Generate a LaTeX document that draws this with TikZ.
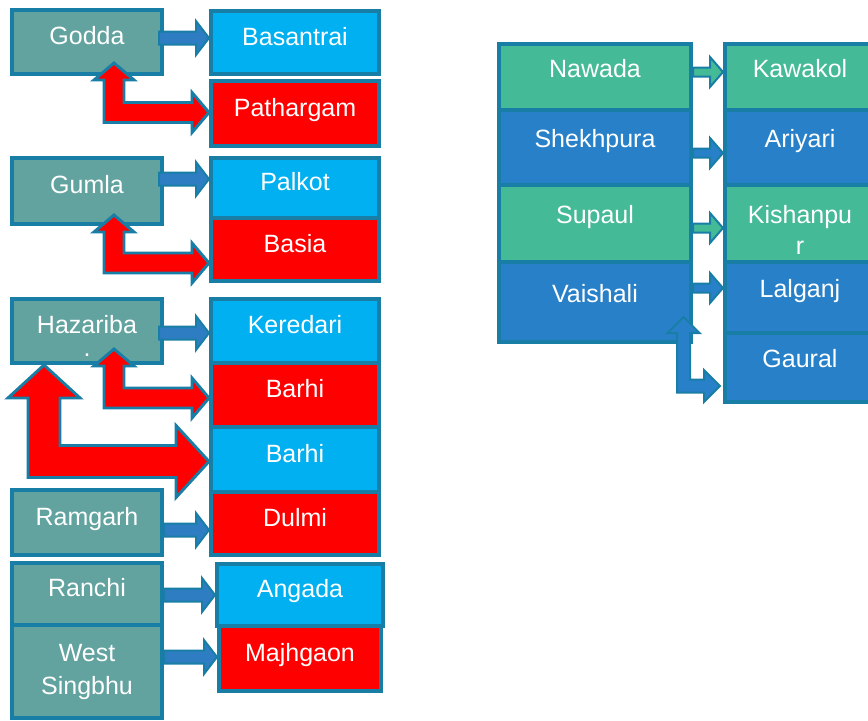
\documentclass[tikz,border=0pt]{standalone}
\usepackage{fontspec}
\setmainfont{Liberation Sans}
\usetikzlibrary{calc}

\newcommand{\pxu}{0.75pt}

\definecolor{edgeteal}{HTML}{187EA6}
\definecolor{distfill}{HTML}{62A39F}
\definecolor{skyfill}{HTML}{00B0F0}
\definecolor{redfill}{HTML}{FF0000}
\definecolor{greenfill}{HTML}{45BA96}
\definecolor{bluefill}{HTML}{2881C8}
\definecolor{arrowblue}{HTML}{2E7DC3}

\tikzset{
  box/.style={draw=edgeteal, line width=3pt, inner sep=0pt, text=white,
    font=\fontsize{18.75}{24.75}\selectfont},
  district/.style={box, fill=distfill, minimum width=150*\pxu, text height=14pt, text depth=10pt},
  block/.style={box, minimum width=168*\pxu, text height=14pt, text depth=10pt},
  bihar/.style={box, text height=14pt, text depth=14pt},
  arrowbody/.style={draw=edgeteal, line width=1.5pt},
  bentbody/.style={draw=edgeteal, line width=2.2pt},
}

% straight block arrow: style, tail, tip, shaft half, head half, head length
\newcommand{\harrow}[6]{%
  \draw[#1] let \p1=#2, \p2=#3 in
    (\x1,\y1+#4*\pxu) -- (\x2-#6*\pxu,\y1+#4*\pxu) -- (\x2-#6*\pxu,\y1+#5*\pxu) -- (\x2,\y1)
    -- (\x2-#6*\pxu,\y1-#5*\pxu) -- (\x2-#6*\pxu,\y1-#4*\pxu) -- (\x1,\y1-#4*\pxu) -- cycle;}

% bent double arrow: style, top tip, right tip, shaft half, head half, head length
\newcommand{\barrow}[6]{%
  \draw[#1] let \p1=#2, \p2=#3 in
    (\x1,\y1) -- (\x1+#5*\pxu,\y1-#6*\pxu) -- (\x1+#4*\pxu,\y1-#6*\pxu) -- (\x1+#4*\pxu,\y2+#4*\pxu)
    -- (\x2-#6*\pxu,\y2+#4*\pxu) -- (\x2-#6*\pxu,\y2+#5*\pxu) -- (\x2,\y2)
    -- (\x2-#6*\pxu,\y2-#5*\pxu) -- (\x2-#6*\pxu,\y2-#4*\pxu) -- (\x1-#4*\pxu,\y2-#4*\pxu)
    -- (\x1-#4*\pxu,\y1-#6*\pxu) -- (\x1-#5*\pxu,\y1-#6*\pxu) -- cycle;}

\begin{document}
\begin{tikzpicture}[x=0.75pt, y=-0.75pt]

\useasboundingbox (0,0) rectangle (868,721);

\node[district, minimum height=64*\pxu] (godda) at (87,42) {Godda};
\node[block, fill=skyfill, minimum height=63*\pxu] (basantrai) at (295,42.5) {Basantrai};
\node[block, fill=redfill, minimum height=65*\pxu] (pathargam) at (295,113.5) {Pathargam};

\node[district, minimum height=66*\pxu] (gumla) at (87,191) {Gumla};
\node[block, fill=skyfill, minimum height=60*\pxu] (palkot) at (295,188) {Palkot};
\node[block, fill=redfill, minimum height=63*\pxu] (basia) at (295,249.5) {Basia};

\node[district, minimum height=64*\pxu] (hazaribag) at (87,331) {\begin{tabular}[t]{@{}c@{}}Hazariba\\[-8pt].\end{tabular}};
\node[block, fill=skyfill, minimum height=64*\pxu] (keredari) at (295,331) {Keredari};
\node[block, fill=redfill, minimum height=64*\pxu] (barhired) at (295,395) {Barhi};
\node[block, fill=skyfill, minimum height=65*\pxu] (barhiblue) at (295,459.5) {Barhi};

\node[district, minimum height=65*\pxu] (ramgarh) at (87,522.5) {Ramgarh};
\node[block, fill=redfill, minimum height=63*\pxu] (dulmi) at (295,523.5) {Dulmi};

\node[district, minimum height=62*\pxu] (ranchi) at (87,594) {Ranchi};
\node[block, fill=skyfill, minimum width=166*\pxu, minimum height=62*\pxu] (angada) at (300,595) {Angada};
\node[box, fill=distfill, minimum width=150*\pxu, minimum height=93*\pxu] (singbhu) at (87,671.5) {\begin{tabular}{@{}c@{}}West\\Singbhu\end{tabular}};
\node[block, fill=redfill, minimum width=162*\pxu, minimum height=65*\pxu] (majhgaon) at (300,658.5) {Majhgaon};

\node[bihar, fill=greenfill, minimum width=192*\pxu, minimum height=66*\pxu] (nawada) at (595,77) {Nawada};
\node[bihar, fill=bluefill, minimum width=192*\pxu, minimum height=75*\pxu] (shekhpura) at (595,147.5) {Shekhpura};
\node[bihar, fill=greenfill, minimum width=192*\pxu, minimum height=77*\pxu] (supaul) at (595,223.5) {Supaul};
\node[bihar, fill=bluefill, minimum width=192*\pxu, minimum height=80*\pxu] (vaishali) at (595,302) {Vaishali};

\node[bihar, fill=greenfill, minimum width=150*\pxu, minimum height=66*\pxu] (kawakol) at (800,77) {Kawakol};
\node[bihar, fill=bluefill, minimum width=150*\pxu, minimum height=75*\pxu] (ariyari) at (800,147.5) {Ariyari};
\node[bihar, fill=greenfill, minimum width=150*\pxu, minimum height=77*\pxu] (kishanpur) at (800,223.5) {\begin{tabular}[t]{@{}c@{}}Kishanpu\\[-1.5pt]r\end{tabular}};
\node[bihar, fill=bluefill, minimum width=150*\pxu, minimum height=71*\pxu] (lalganj) at (800,297.5) {Lalganj};
\node[bihar, fill=bluefill, minimum width=150*\pxu, minimum height=69*\pxu] (gaural) at (800,367.5) {Gaural};

\harrow{arrowbody, fill=arrowblue}{($(godda.east)+(-5,-4)$)}{(basantrai.west)}{6.5}{17}{13}
\harrow{arrowbody, fill=arrowblue}{($(gumla.east)+(-5,-12)$)}{(palkot.west)}{6.5}{17}{13}
\harrow{arrowbody, fill=arrowblue}{($(hazaribag.east)+(-5,2)$)}{(keredari.west)}{6.5}{17}{13}
\harrow{arrowbody, fill=arrowblue}{($(ramgarh.east)+(0,7.5)$)}{(dulmi.west)}{6.5}{17}{13}
\harrow{arrowbody, fill=arrowblue}{($(ranchi.east)+(0,1)$)}{(angada.west)}{6.5}{17}{13}
\harrow{arrowbody, fill=arrowblue}{($(singbhu.east)+(0,-14.5)$)}{(majhgaon.west)}{6.5}{17}{13}

\barrow{bentbody, fill=redfill}{($(godda.south)+(27,-13)$)}{($(pathargam.west)+(0,-1)$)}{10}{20}{17}
\barrow{bentbody, fill=redfill}{($(gumla.south)+(27,-11)$)}{($(basia.west)+(0,13.5)$)}{10}{20}{17}
\barrow{bentbody, fill=redfill}{($(hazaribag.south)+(27,-16)$)}{($(barhired.west)+(0,3)$)}{10}{20}{17}
\barrow{bentbody, fill=redfill}{($(hazaribag.south)+(-43,0)$)}{($(barhiblue.west)+(0,2)$)}{16}{36}{33}

\harrow{arrowbody, fill=greenfill}{($(nawada.east)+(0,-5)$)}{(kawakol.west)}{4.5}{15}{13}
\harrow{arrowbody, fill=bluefill}{($(shekhpura.east)+(0,5.5)$)}{(ariyari.west)}{4.5}{15}{13}
\harrow{arrowbody, fill=greenfill}{($(supaul.east)+(0,4.5)$)}{(kishanpur.west)}{4.5}{15}{13}
\harrow{arrowbody, fill=bluefill}{($(vaishali.east)+(0,-14)$)}{(lalganj.west)}{4.5}{15}{13}

\barrow{arrowbody, fill=bluefill}{($(vaishali.south east)+(-9.5,-27)$)}{($(gaural.west)+(-3,18.5)$)}{6.5}{16}{16}

\end{tikzpicture}
\end{document}
